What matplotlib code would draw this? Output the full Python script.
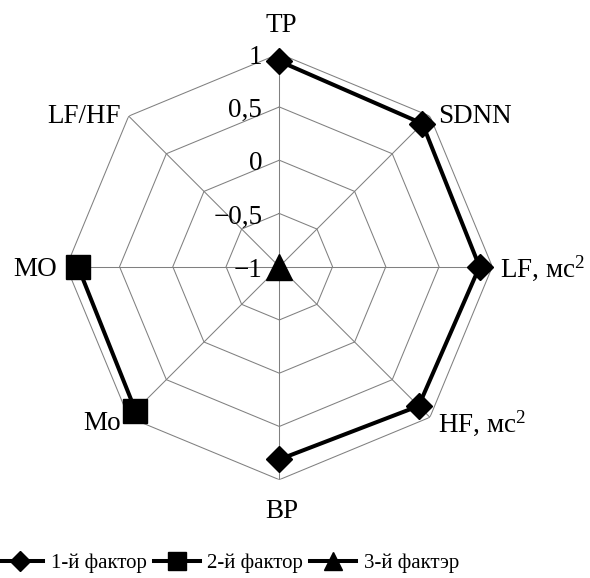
import numpy as np
import matplotlib
matplotlib.use("Agg")
import matplotlib.pyplot as plt
from matplotlib.transforms import offset_copy
from matplotlib.lines import Line2D

plt.rcParams['font.family'] = ['Liberation Serif', 'DejaVu Serif']
plt.rcParams['mathtext.fontset'] = 'custom'
plt.rcParams['mathtext.rm'] = 'Liberation Serif'
plt.rcParams['mathtext.it'] = 'Liberation Serif'

categories = ['TP', 'SDNN', 'LF, мс$^2$', 'HF, мс$^2$', 'BP', 'Mo', 'MO', 'LF/HF']
nan = np.nan
factor1 = [0.93, 0.90, 0.88, 0.85, 0.81, nan, nan, nan]
factor2 = [nan, nan, nan, nan, nan, 0.91, 0.89, nan]
factor3 = [-1.0, nan, nan, nan, nan, nan, nan, nan]
series_names = ['1-й фактор', '2-й фактор', '3-й фактэр']
ring_levels = [-0.5, 0, 0.5, 1]
tick_labels = ['1', '0,5', '0', '−0,5', '−1']
tick_values = [1, 0.5, 0, -0.5, -1]

fig = plt.figure(figsize=(5.9, 5.78), dpi=100)
W, H = 590, 578
cx, cy, R = 279.3, 266.7, 213
ax = fig.add_axes([(cx - R) / W, (H - cy - R) / H, 2 * R / W, 2 * R / H], projection='polar')
ax.set_theta_offset(np.pi / 2)
ax.set_theta_direction(-1)
ax.set_ylim(-1, 1)
ax.grid(False)
ax.set_xticks([])
ax.set_yticks([])
ax.spines['polar'].set_visible(False)
ax.patch.set_visible(False)

n = len(categories)
angles = np.arange(n) * 2 * np.pi / n
grid_col = '#808080'
for lv in ring_levels:
    ax.plot(np.append(angles, angles[0]), [lv] * (n + 1), color=grid_col, lw=0.75, zorder=1)
for a in angles:
    ax.plot([a, a], [-1, 1], color=grid_col, lw=0.75, zorder=1)

ax.plot(angles, factor1, color='black', lw=2.9, marker='D', ms=13, zorder=3, clip_on=False)
ax.plot(angles, factor2, color='black', lw=2.9, marker='s', ms=17.5, zorder=3, clip_on=False)
ax.plot(angles, factor3, color='black', lw=2.9, marker='^', ms=19, zorder=3, clip_on=False)

fs = 19.5
offsets = [(1.7, 22, 'center'), (8.1, -7.2, 'left'), (7.7, -10, 'left'), (8.1, -14.4, 'left'),
           (2.7, -38.6, 'center'), (-7.7, -12.7, 'right'), (-9.3, -9.3, 'right'), (-7.7, -7.2, 'right')]
for a, lab, (dx, dy, ha) in zip(angles, categories, offsets):
    tr = offset_copy(ax.transData, fig=fig, x=dx, y=dy, units='dots')
    ax.text(a, 1, lab, transform=tr, ha=ha, va='baseline', fontsize=fs, clip_on=False)

trt = offset_copy(ax.transData, fig=fig, x=-17, y=-10, units='dots')
for v, t in zip(tick_values, tick_labels):
    ax.text(0, v, t, transform=trt, ha='right', va='baseline', fontsize=fs, clip_on=False, zorder=2)

handles = [Line2D([], [], color='black', lw=2.9, marker=m, ms=s) for m, s in
           [('D', 10), ('s', 13.5), ('^', 13)]]
fig.legend(handles, series_names, loc='center left', bbox_to_anchor=(-3 / W, 15 / H),
           ncol=3, frameon=False, fontsize=15, handlelength=2.2, handletextpad=0.38,
           columnspacing=0.34, borderpad=0, borderaxespad=0)

fig.savefig('out.png', dpi=100)
